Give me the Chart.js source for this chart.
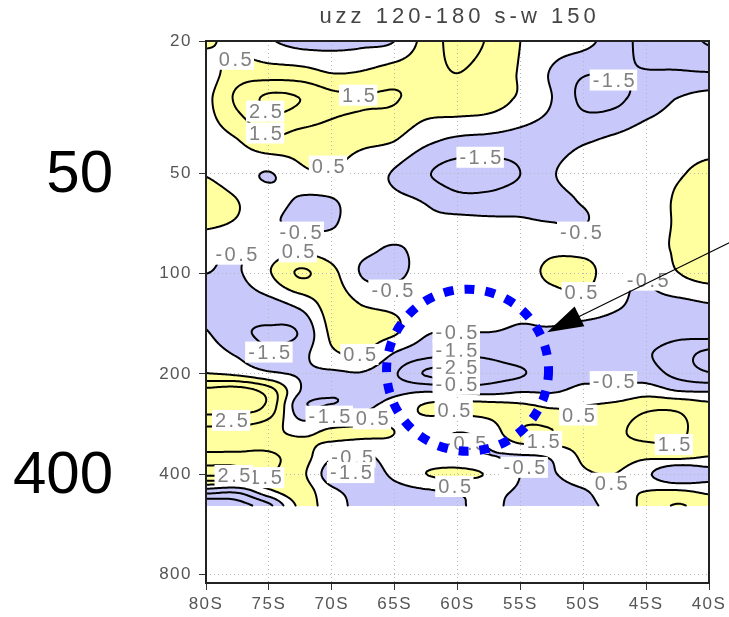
<!DOCTYPE html>
<html>
<head>
<meta charset="utf-8">
<script src="https://cdn.jsdelivr.net/npm/chart.js@4.4.1/dist/chart.umd.min.js"></script>
<style>
  html, body { margin: 0; padding: 0; background: #fff; }
</style>
</head>
<body>
<canvas id="c" width="729" height="617"></canvas>
<script>
// grid: latitude columns (negative = south), pressure rows (hPa)
const LATS = [-80, -77.5, -75, -72.5, -70, -67.5, -65, -62.5, -60, -57.5, -55, -52.5, -50, -47.5, -45, -42.5, -40];
const LEVELS = [20, 25, 30, 40, 50, 60, 70, 85, 100, 125, 150, 175, 200, 225, 250, 300, 350, 400, 450, 500];

const U20  = [0.6, 0.2, -0.4, -0.8, -0.8, -0.7, -0.5, 0.9, 1.8, 1.4, 0.5, 0.0, -0.2, -1.0, -1.8, -2.0, -2.6];
const U25  = [0.1, 1.0, 1.0, 0.9, 0.5, 0.6, 1.0, 1.2, 1.5, 1.1, 0.4, -0.6, -1.4, -1.45, -1.45, -1.42, -1.45];
const U30  = [0.3, 1.7, 2.7, 2.5, 1.8, 1.6, 1.55, 1.1, 1.2, 1.0, 0.3, -0.5, -1.7, -1.7, -1.0, -0.45, -0.1];
const U40  = [0.2, 0.45, 1.3, 1.0, 0.9, 0.7, 0.5, -0.3, -0.7, -0.8, -0.9, -0.9, -0.6, -0.3, 0.0, 0.0, 0.1];
const U50  = [0.45, 0.0, -0.55, 0.3, 0.45, 0.0, -0.6, -1.4, -1.9, -1.9, -1.5, -0.6, 0.0, 0.1, 0.2, 0.4, 0.8];
const U60  = [0.9, 0.5, 0.0, -0.6, -0.55, 0.0, -0.3, -0.6, -1.2, -1.2, -0.9, -0.8, -0.4, 0.0, 0.1, 0.6, 1.0];
const U70  = [0.7, 0.4, -0.3, -0.7, -0.6, 0.0, 0.0, -0.3, -0.2, -0.3, -0.4, -0.5, -0.55, 0.0, 0.1, 0.6, 1.0];
const U85  = [-0.2, -0.5, 0.0, 0.25, 0.0, -0.3, -0.6, -0.2, 0.0, 0.0, -0.1, 0.3, 0.2, 0.0, 0.2, 0.6, 1.0];
const U100 = [-0.5, -0.6, 0.4, 1.6, 0.8, -0.6, -0.7, -0.1, 0.0, 0.0, 0.1, 0.7, 0.9, -0.2, -0.4, 0.45, 0.9];
const U125 = [-0.8, -1.0, -0.9, -0.3, 0.9, 0.5, 0.3, 0.0, 0.0, -0.2, -0.3, -0.1, 0.0, -0.4, -0.7, -0.8, -0.6];
const U150 = [-0.45, -1.3, -1.6, -1.4, 0.7, 0.8, 0.6, -0.4, -0.5, -0.5, -0.6, -0.6, -0.8, -0.9, -1.0, -1.2, -1.0];
const U175 = [0.0, -0.6, -1.3, -0.8, 0.3, 0.5, -0.6, -1.2, -1.4, -1.3, -1.0, -1.0, -0.9, -1.0, -1.4, -2.0, -2.8];
const U200 = [0.55, 0.3, -0.3, -0.6, -0.7, -0.6, -1.4, -2.6, -2.8, -2.0, -1.6, -1.0, -0.7, -0.7, -1.0, -1.8, -2.4];
const U225 = [2.8, 3.0, 2.0, -0.5, -1.3, -1.0, -0.8, -0.6, -0.8, -0.9, -0.6, -0.6, -0.3, -0.4, 0.0, -0.5, -0.6];
const U250 = [3.0, 3.0, 2.2, -1.2, -1.4, -0.8, 0.0, 0.6, 0.8, 0.8, 0.7, 0.4, 0.5, 0.8, 1.3, 1.3, 0.8];
const U300 = [1.2, 1.2, 0.8, 0.3, 0.7, 0.7, 0.5, 0.0, -0.5, -0.1, 1.4, 1.5, 1.0, 1.3, 1.8, 1.7, 1.0];
const U350 = [1.6, 1.6, 1.6, 1.0, -0.3, -0.6, 0.0, -0.2, -0.3, -0.5, -0.5, -0.3, 0.7, 1.0, 0.8, 1.0, 0.6];
const U400 = [2.7, 2.6, 1.6, 0.8, -1.0, -1.0, -0.3, 0.5, 0.7, 0.4, -0.5, -0.6, 0.3, 0.5, -0.3, -1.4, -0.9];
const U450 = [-1.0, -1.2, 0.3, 1.0, -0.3, -0.8, -0.8, -0.6, -0.4, -0.3, -0.6, -0.9, -0.6, 0.2, 0.5, 0.6, 0.3];
const U500 = [-3.5, -3.0, -1.8, 0.7, 0.0, -0.9, -1.0, -0.8, -0.6, -0.3, -0.8, -0.9, -0.7, -0.2, 0.8, 1.6, 1.0];

const FIELD = [U20, U25, U30, U40, U50, U60, U70, U85, U100, U125, U150, U175, U200, U225, U250, U300, U350, U400, U450, U500];

const CONTOUR_LEVELS = [-3.5, -2.5, -1.5, -0.5, 0.5, 1.5, 2.5, 3.5];
const X_TICKS = [-80, -75, -70, -65, -60, -55, -50, -45, -40];
const Y_TICKS = [20, 50, 100, 200, 400, 800];

// contour labels as GrADS put them: [text, lat, pressure]
const CONTOUR_LABELS = [
  ['0.5', -77.7, 22.7], ['2.5', -75.3, 32.5], ['1.5', -75.3, 37.8], ['1.5', -67.9, 29.1],
  ['0.5', -70.3, 47.5], ['-1.5', -58.2, 44.7], ['-1.5', -47.6, 26.2], ['-0.5', -50.2, 75],
  ['-0.5', -72.5, 75], ['-0.5', -77.6, 87.4], ['0.5', -72.7, 86], ['-0.5', -65.2, 112],
  ['0.5', -50.2, 114], ['-0.5', -44.9, 104.6], ['-1.5', -75.0, 172], ['0.5', -67.8, 175],
  ['-0.5', -60.1, 150], ['-1.5', -60.1, 170], ['-2.5', -60.1, 191], ['-0.5', -60.1, 215],
  ['0.5', -60.3, 257], ['-0.5', -47.6, 211], ['0.5', -50.4, 266], ['2.5', -78.0, 276],
  ['-1.5', -70.2, 268], ['0.5', -66.8, 273], ['1.5', -53.2, 319], ['-0.5', -59.4, 324],
  ['-0.5', -54.7, 382], ['0.5', -60.25, 436], ['0.5', -47.8, 426], ['1.5', -42.8, 326],
  ['-0.5', -68.4, 356], ['-1.5', -68.5, 396], ['1.5', -75.3, 410], ['2.5', -77.8, 404]
];

const TITLE = 'uzz 120-180 s-w 150';
const MARKS = ['50', '400'];

const YELLOW = [255, 255, 160];
const BLUE = [200, 200, 250];

const clamp = (v, lo, hi) => Math.max(lo, Math.min(hi, v));
const cr = (p0, p1, p2, p3, t) =>
  0.5 * (2 * p1 + (-p0 + p2) * t + (2 * p0 - 5 * p1 + 4 * p2 - p3) * t * t + (-p0 + 3 * p1 - 3 * p2 + p3) * t * t * t);

const colIndex = (lat) => clamp((lat - LATS[0]) / (LATS[1] - LATS[0]), 0, LATS.length - 1);
const rowIndex = (p) => {
  p = clamp(p, LEVELS[0], LEVELS[LEVELS.length - 1]);
  let i = 0;
  while (i < LEVELS.length - 2 && p > LEVELS[i + 1]) i++;
  return i + Math.log(p / LEVELS[i]) / Math.log(LEVELS[i + 1] / LEVELS[i]);
};

function bicubic(fr, fc) {
  const nr = FIELD.length, nc = LATS.length;
  const r = Math.floor(fr), c = Math.floor(fc);
  const tr = fr - r, tc = fc - c;
  const col = [];
  for (let k = -1; k <= 2; k++) {
    const row = FIELD[clamp(r + k, 0, nr - 1)];
    col.push(cr(row[clamp(c - 1, 0, nc - 1)], row[clamp(c, 0, nc - 1)],
                row[clamp(c + 1, 0, nc - 1)], row[clamp(c + 2, 0, nc - 1)], tc));
  }
  return cr(col[0], col[1], col[2], col[3], tr);
}

const contourPlugin = {
  id: 'contour',
  beforeDraw(chart) {
    const { ctx, chartArea: a, scales: { x, y } } = chart;
    ctx.letterSpacing = '1.5px';
    const left = Math.round(a.left), top = Math.round(a.top), right = Math.round(a.right);
    const bottom = Math.round(y.getPixelForValue(LEVELS[LEVELS.length - 1]));
    const W = right - left, H = bottom - top;
    const fc = [], fr = [];
    for (let i = 0; i < W; i++) fc.push(colIndex(x.getValueForPixel(left + i + 0.5)));
    for (let j = 0; j < H; j++) fr.push(rowIndex(y.getValueForPixel(top + j + 0.5)));
    const F = new Float32Array(W * H);
    for (let j = 0; j < H; j++)
      for (let i = 0; i < W; i++) F[j * W + i] = bicubic(fr[j], fc[i]);
    chart.$field = { F, W, H, left, top };

    const off = document.createElement('canvas');
    off.width = W; off.height = H;
    const octx = off.getContext('2d');
    const img = octx.createImageData(W, H);
    for (let k = 0; k < W * H; k++) {
      const v = F[k];
      const col = v > 0.5 ? YELLOW : v < -0.5 ? BLUE : [255, 255, 255];
      img.data[k * 4] = col[0]; img.data[k * 4 + 1] = col[1]; img.data[k * 4 + 2] = col[2]; img.data[k * 4 + 3] = 255;
    }
    octx.putImageData(img, 0, 0);
    ctx.drawImage(off, left, top);
  },
  beforeDatasetsDraw(chart) {
    const { ctx, scales: { x, y } } = chart;
    const { F, W, H, left, top } = chart.$field;
    const S = 2;
    ctx.save();
    ctx.strokeStyle = '#000';
    ctx.lineWidth = 2;
    ctx.lineCap = 'round';
    ctx.beginPath();
    for (const L of CONTOUR_LEVELS) {
      for (let j = 0; j + S < H; j += S) {
        for (let i = 0; i + S < W; i += S) {
          const a = F[j * W + i], b = F[j * W + i + S], c = F[(j + S) * W + i + S], d = F[(j + S) * W + i];
          const pts = {};
          const x0 = left + i + 0.5, y0 = top + j + 0.5;
          if ((a < L) !== (b < L)) pts.t = [x0 + S * (L - a) / (b - a), y0];
          if ((b < L) !== (c < L)) pts.r = [x0 + S, y0 + S * (L - b) / (c - b)];
          if ((d < L) !== (c < L)) pts.b = [x0 + S * (L - d) / (c - d), y0 + S];
          if ((a < L) !== (d < L)) pts.l = [x0, y0 + S * (L - a) / (d - a)];
          const keys = Object.keys(pts);
          const seg = (p, q) => { ctx.moveTo(p[0], p[1]); ctx.lineTo(q[0], q[1]); };
          if (keys.length === 2) seg(pts[keys[0]], pts[keys[1]]);
          else if (keys.length === 4) {
            const m = (a + b + c + d) / 4;
            if ((a >= L) === (m >= L)) { seg(pts.t, pts.r); seg(pts.l, pts.b); }
            else { seg(pts.t, pts.l); seg(pts.r, pts.b); }
          }
        }
      }
    }
    ctx.stroke();

    // labels with white boxes
    ctx.font = '20px "Liberation Sans", Arial, sans-serif';
    ctx.letterSpacing = '2.5px';
    ctx.textAlign = 'center';
    ctx.textBaseline = 'middle';
    for (const [txt, lat, p] of CONTOUR_LABELS) {
      const px = x.getPixelForValue(lat), py = y.getPixelForValue(p);
      const w = ctx.measureText(txt).width + 3;
      ctx.fillStyle = '#fff';
      ctx.fillRect(px - w / 2, py - 10.5, w, 21);
      ctx.fillStyle = '#808080';
      ctx.fillText(txt, px + 1.5, py + 1);
    }
    ctx.restore();
  },
  afterDraw(chart) {
    const { ctx, chartArea: a, scales: { x, y } } = chart;
    ctx.save();
    // frame
    ctx.strokeStyle = '#222';
    ctx.lineWidth = 2;
    ctx.strokeRect(a.left, a.top, a.right - a.left, a.bottom - a.top);

    // title
    ctx.letterSpacing = '4px';
    ctx.font = '22px "Liberation Sans", Arial, sans-serif';
    ctx.fillStyle = '#444';
    ctx.textAlign = 'center';
    ctx.textBaseline = 'middle';
    ctx.fillText(TITLE, (a.left + a.right) / 2 + 2, 17);

    // big pressure marks on the left
    ctx.letterSpacing = '0px';
    ctx.font = '60px "Liberation Sans", Arial, sans-serif';
    ctx.fillStyle = '#000';
    ctx.textAlign = 'right';
    ctx.textBaseline = 'alphabetic';
    ctx.fillText(MARKS[0], 113, 192);
    ctx.fillText(MARKS[1], 113, 493);

    // dotted circle
    const cx = x.getPixelForValue(-59.2), cy = y.getPixelForValue(195);
    ctx.strokeStyle = '#0000ff';
    ctx.lineWidth = 9;
    ctx.setLineDash([10, 11]);
    ctx.beginPath();
    ctx.arc(cx, cy, 81, 0, Math.PI * 2);
    ctx.stroke();
    ctx.setLineDash([]);

    // arrow
    const tx = x.getPixelForValue(-52.87), ty = y.getPixelForValue(150);
    const sx = x.getPixelForValue(-37.15), sy = y.getPixelForValue(76.6);
    const ang = Math.atan2(ty - sy, tx - sx);
    ctx.strokeStyle = '#000';
    ctx.lineWidth = 1.2;
    ctx.beginPath();
    ctx.moveTo(sx, sy);
    ctx.lineTo(tx - Math.cos(ang) * 30, ty - Math.sin(ang) * 30);
    ctx.stroke();
    ctx.fillStyle = '#000';
    ctx.beginPath();
    ctx.moveTo(tx, ty);
    ctx.lineTo(tx - Math.cos(ang) * 36 - Math.sin(ang) * 11, ty - Math.sin(ang) * 36 + Math.cos(ang) * 11);
    ctx.lineTo(tx - Math.cos(ang) * 36 + Math.sin(ang) * 11, ty - Math.sin(ang) * 36 - Math.cos(ang) * 11);
    ctx.closePath();
    ctx.fill();
    ctx.restore();
  }
};

const gridPoints = [];
LEVELS.forEach((p, r) => LATS.forEach((lat, c) => gridPoints.push({ x: lat, y: p, v: FIELD[r][c] })));

const tickFont = { family: '"Liberation Sans", Arial, sans-serif', size: 17 };

new Chart(document.getElementById('c').getContext('2d'), {
  type: 'scatter',
  data: {
    datasets: [{
      label: 'uzz',
      data: gridPoints,
      pointRadius: 0,
      showLine: false
    }]
  },
  options: {
    responsive: false,
    animation: false,
    events: [],
    layout: { padding: { left: 0, right: 20, top: 41, bottom: 0 } },
    plugins: {
      legend: { display: false },
      tooltip: { enabled: false },
      title: { display: false }
    },
    scales: {
      x: {
        type: 'linear',
        min: -80,
        max: -40,
        afterBuildTicks: (axis) => { axis.ticks = X_TICKS.map(v => ({ value: v })); },
        afterFit: (axis) => { axis.height = 34; },
        ticks: {
          callback: (v) => (-v) + 'S',
          color: '#555',
          font: tickFont,
          padding: 4,
          maxRotation: 0,
          autoSkip: false
        },
        grid: { color: '#b8b8b8', lineWidth: 1, tickLength: 7, tickColor: '#333', tickBorderDash: [] },
        border: { display: false, dash: [1, 3] }
      },
      y: {
        type: 'logarithmic',
        reverse: true,
        min: 20,
        max: 850,
        afterBuildTicks: (axis) => { axis.ticks = Y_TICKS.map(v => ({ value: v })); },
        afterFit: (axis) => { axis.width = 206; },
        ticks: {
          callback: (v) => String(v),
          color: '#555',
          font: tickFont,
          padding: 7,
          autoSkip: false
        },
        grid: { color: '#b8b8b8', lineWidth: 1, tickLength: 7, tickColor: '#333', tickBorderDash: [] },
        border: { display: false, dash: [1, 3] }
      }
    }
  },
  plugins: [contourPlugin]
});
</script>
</body>
</html>
